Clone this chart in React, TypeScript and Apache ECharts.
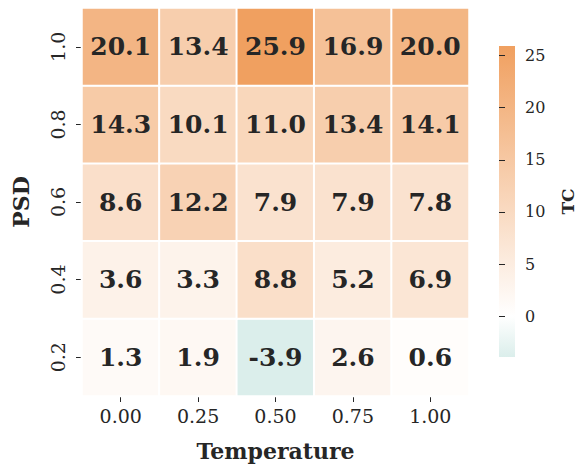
import React, { useEffect, useRef } from "react";
import * as echarts from "echarts";

const xLabels = ["0.00", "0.25", "0.50", "0.75", "1.00"];
const yLabels = ["0.2", "0.4", "0.6", "0.8", "1.0"];
// rows from bottom (PSD 0.2) to top (PSD 1.0), columns = Temperature
const row02 = [1.3, 1.9, -3.9, 2.6, 0.6];
const row04 = [3.6, 3.3, 8.8, 5.2, 6.9];
const row06 = [8.6, 12.2, 7.9, 7.9, 7.8];
const row08 = [14.3, 10.1, 11.0, 13.4, 14.1];
const row10 = [20.1, 13.4, 25.9, 16.9, 20.0];
const rows = [row02, row04, row06, row08, row10];
const cbTicks = [0, 5, 10, 15, 20, 25];

const FONT = "DejaVu Serif";
const TXT = "#262626";
const NEG = [219, 238, 235];
const MID = [255, 255, 255];
const POS = [240, 160, 96];

export default function App() {
  const ref = useRef<HTMLDivElement>(null);
  useEffect(() => {
    if (!ref.current) return;
    const chart = echarts.init(ref.current, null, { renderer: "svg" });
    const all = rows.flat();
    const vmin = Math.min(...all);
    const vmax = Math.max(...all);
    const mix = (a: number[], b: number[], t: number) =>
      "rgb(" + a.map((c, i) => Math.round(c + (b[i] - c) * t)).join(",") + ")";
    const colorAt = (v: number) =>
      v < 0 ? mix(MID, NEG, v / vmin) : mix(MID, POS, v / vmax);
    const steps = Math.round((vmax - vmin) * 10);
    const colors: string[] = [];
    for (let i = 0; i <= steps; i++) colors.push(colorAt(vmin + (i * (vmax - vmin)) / steps));
    const data: number[][] = [];
    rows.forEach((r, yi) => r.forEach((v, xi) => data.push([xi, yi, v])));
    const zeroOff = vmax / (vmax - vmin);

    chart.setOption({
      animation: false,
      textStyle: { fontFamily: FONT, color: TXT },
      grid: [
        { left: 82, top: 8, width: 387, height: 388 },
        { left: 499, top: 46, width: 16, height: 311 },
      ],
      xAxis: [
        {
          type: "category",
          data: xLabels,
          gridIndex: 0,
          axisLine: { show: false },
          axisTick: { show: true, alignWithLabel: true, length: 6, lineStyle: { color: TXT, width: 1 } },
          axisLabel: { fontFamily: FONT, fontSize: 19, color: TXT, margin: 10 },
          splitLine: { show: false },
          name: "Temperature",
          nameLocation: "middle",
          nameGap: 44,
          nameTextStyle: { fontFamily: FONT, fontSize: 22, fontWeight: "bold", color: TXT },
        },
        { type: "value", gridIndex: 1, show: false, min: 0, max: 1 },
      ],
      yAxis: [
        {
          type: "category",
          data: yLabels,
          gridIndex: 0,
          axisLine: { show: false },
          axisTick: { show: true, alignWithLabel: true, length: 6, lineStyle: { color: TXT, width: 1 } },
          axisLabel: { fontFamily: FONT, fontSize: 19, color: TXT, rotate: 90, margin: 15 },
          splitLine: { show: false },
          name: "PSD",
          nameLocation: "middle",
          nameGap: 50,
          nameRotate: 90,
          nameTextStyle: { fontFamily: FONT, fontSize: 22, fontWeight: "bold", color: TXT },
        },
        {
          type: "value",
          gridIndex: 1,
          position: "right",
          min: vmin,
          max: vmax,
          axisLine: { show: false },
          splitLine: { show: false },
          axisTick: { show: true, length: 6, customValues: cbTicks, lineStyle: { color: TXT, width: 1 } },
          axisLabel: { fontFamily: FONT, fontSize: 16, color: TXT, margin: 10, customValues: cbTicks },
          name: "TC",
          nameLocation: "middle",
          nameRotate: 90,
          nameGap: 44,
          nameTextStyle: { fontFamily: FONT, fontSize: 17, fontWeight: "bold", color: TXT },
        },
      ],
      visualMap: {
        show: false,
        type: "continuous",
        min: vmin,
        max: vmax,
        seriesIndex: 0,
        dimension: 2,
        inRange: { color: colors },
      },
      graphic: [
        {
          type: "rect",
          shape: { x: 499, y: 46, width: 16, height: 311 },
          style: {
            fill: new echarts.graphic.LinearGradient(0, 0, 0, 1, [
              { offset: 0, color: colorAt(vmax) },
              { offset: zeroOff, color: colorAt(0) },
              { offset: 1, color: colorAt(vmin) },
            ]),
          },
          z: -1,
        },
      ],
      series: [
        {
          type: "heatmap",
          xAxisIndex: 0,
          yAxisIndex: 0,
          data,
          itemStyle: { borderColor: "#ffffff", borderWidth: 2 },
          label: {
            show: true,
            fontFamily: FONT,
            fontSize: 25,
            fontWeight: "bold",
            color: TXT,
            formatter: (p: any) => p.value[2].toFixed(1),
          },
          emphasis: { disabled: true },
        },
      ],
    });
    return () => chart.dispose();
  }, []);
  return (
    <div
      ref={ref}
      style={{ position: "fixed", left: 0, top: 0, width: 579, height: 470, background: "#fff" }}
    />
  );
}
